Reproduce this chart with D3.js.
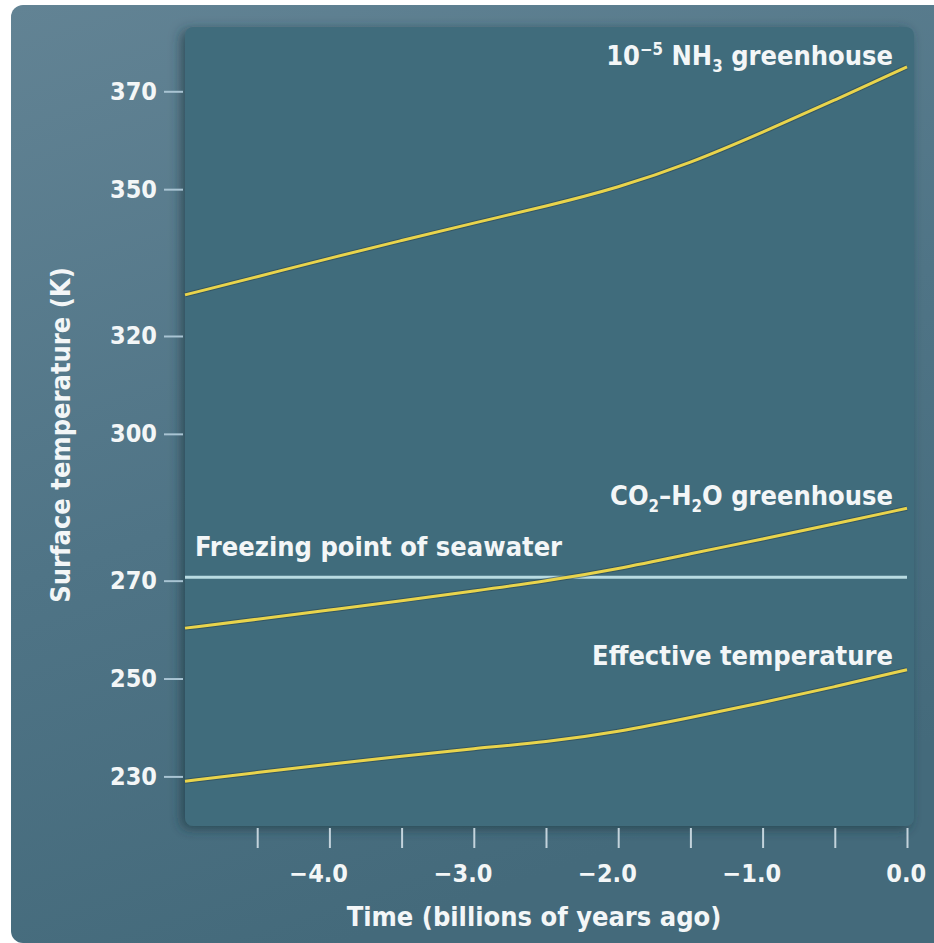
<!DOCTYPE html>
<html>
<head>
<meta charset="utf-8">
<script src="https://cdn.jsdelivr.net/npm/d3@7"></script>
<style>
  body { margin: 0; background: #ffffff; }
  svg text { font-family: "DejaVu Sans Condensed", "Liberation Sans Narrow", sans-serif; font-weight: bold; fill: #f3f6f7; }
</style>
</head>
<body>
<svg id="chart"></svg>
<script>
// time in billions of years ago (negative = past)
const times = [-5, -4.5, -4, -3.5, -3, -2.5, -2, -1.5, -1, -0.5, 0];
const nh3Temps = [328.4, 332.1, 335.9, 339.5, 343.1, 346.5, 350.3, 355.3, 361.6, 368.2, 375.0];
const co2Temps = [260.3, 262.1, 264.0, 265.9, 267.9, 269.9, 272.4, 275.5, 278.5, 281.6, 284.8];
const effTemps = [229.0, 230.8, 232.5, 234.1, 235.7, 237.0, 239.1, 242.0, 245.1, 248.3, 251.8];
const freezingTemp = 270.7;

const yTickValues = [230, 250, 270, 300, 320, 350, 370];
const xTickValues = [-4.5, -4, -3.5, -3, -2.5, -2, -1.5, -1, -0.5, 0];
const xLabelValues = [-4, -3, -2, -1, 0];

class TempChart {

  constructor(config) {
    this.config = {
      parent: config.parent,
      width: config.width || 934,
      height: config.height || 943,
      plot: config.plot || {left: 185, right: 907, top: 27, bottom: 826},
      fontSize: config.fontSize || 27,
      tickFontSize: config.tickFontSize || 25,
    }
    this.init()
  }

  init() {
    let self = this
    let c = self.config

    self.svg = d3.select(c.parent)
      .attr("width", c.width)
      .attr("height", c.height)

    let defs = self.svg.append("defs")
    let grad = defs.append("linearGradient")
      .attr("id", "bg")
      .attr("x1", "0").attr("y1", "0")
      .attr("x2", "0.35").attr("y2", "1")
    grad.append("stop").attr("offset", "0").attr("stop-color", "#628394")
    grad.append("stop").attr("offset", "0.55").attr("stop-color", "#4f7486")
    grad.append("stop").attr("offset", "1").attr("stop-color", "#446a7b")

    let shadow = defs.append("filter")
      .attr("id", "shadow")
      .attr("x", "-10%").attr("y", "-10%")
      .attr("width", "120%").attr("height", "120%")
    shadow.append("feDropShadow")
      .attr("dx", -4).attr("dy", 3)
      .attr("stdDeviation", 6)
      .attr("flood-color", "#1d3440")
      .attr("flood-opacity", 0.65)

    // outer panel
    self.svg.append("rect")
      .attr("x", 11).attr("y", 5)
      .attr("width", c.width + 20).attr("height", c.height - 5)
      .attr("rx", 12)
      .attr("fill", "url(#bg)")

    self.x_scale = d3.scaleLinear()
      .domain([-5, 0])
      .range([c.plot.left, c.plot.right])

    // fitted from the tick positions of the original
    self.y_scale = d3.scaleLinear()
      .domain([230, 370])
      .range([776.4, 91.3])

    // inner plot panel
    self.svg.append("rect")
      .attr("x", c.plot.left)
      .attr("y", c.plot.top)
      .attr("width", c.plot.right - c.plot.left + 7)
      .attr("height", c.plot.bottom - c.plot.top)
      .attr("rx", 8)
      .attr("fill", "#416c7c")
      .attr("filter", "url(#shadow)")

    self.line = d3.line()
      .x((d, i) => self.x_scale(times[i]))
      .y(d => self.y_scale(d))
      .curve(d3.curveBasis)
  }

  render() {
    let self = this
    let c = self.config

    // y axis
    let yAxis = d3.axisLeft(self.y_scale)
      .tickValues(yTickValues)
      .tickSize(19)
      .tickPadding(7)

    let yg = self.svg.append("g")
      .attr("transform", "translate(" + (c.plot.left - 2) + ",0)")
      .call(yAxis)
    yg.select(".domain").remove()
    yg.selectAll(".tick line").attr("stroke", "#a9c4d3").attr("stroke-width", 2)
    yg.selectAll(".tick text")
      .attr("fill", null)
      .style("font-size", c.tickFontSize + "px")

    // x axis
    let xAxis = d3.axisBottom(self.x_scale)
      .tickValues(xTickValues)
      .tickSize(20)
      .tickPadding(16)
      .tickFormat(d => xLabelValues.includes(d) ? d3.format(".1f")(d) : "")

    let xg = self.svg.append("g")
      .attr("transform", "translate(0," + (c.plot.bottom + 2) + ")")
      .call(xAxis)
    xg.select(".domain").remove()
    xg.selectAll(".tick line").attr("stroke", "#c3d3dc").attr("stroke-width", 2)
    xg.selectAll(".tick text")
      .attr("fill", null)
      .attr("dx", d => d < 0 ? "-0.45em" : "-0.05em")
      .style("font-size", c.tickFontSize + "px")

    // freezing point line
    self.svg.append("line")
      .attr("x1", c.plot.left)
      .attr("x2", c.plot.right)
      .attr("y1", self.y_scale(freezingTemp))
      .attr("y2", self.y_scale(freezingTemp))
      .attr("stroke", "#b9dbe2")
      .attr("stroke-width", 3)

    // curves: dark edge + yellow core
    let series = [nh3Temps, co2Temps, effTemps]
    self.svg.selectAll("path.edge")
      .data(series)
      .enter()
      .append("path")
      .attr("class", "edge")
      .attr("fill", "none")
      .attr("stroke", "#2b4650")
      .attr("stroke-opacity", 0.6)
      .attr("stroke-width", 5)
      .attr("d", self.line)

    self.svg.selectAll("path.curve")
      .data(series)
      .enter()
      .append("path")
      .attr("class", "curve")
      .attr("fill", "none")
      .attr("stroke", "#e9d44c")
      .attr("stroke-width", 3)
      .attr("d", self.line)

    let fs = c.fontSize
    let sub = fs * 0.62

    // series labels
    let nh3 = self.svg.append("text")
      .attr("x", 893).attr("y", 65)
      .attr("text-anchor", "end")
      .style("font-size", fs + "px")
    nh3.append("tspan").text("10")
    nh3.append("tspan").text("−5").attr("dy", -10).style("font-size", sub + "px")
    nh3.append("tspan").text(" NH").attr("dy", 10)
    nh3.append("tspan").text("3").attr("dy", 7).style("font-size", sub + "px")
    nh3.append("tspan").text(" greenhouse").attr("dy", -7)

    let co2 = self.svg.append("text")
      .attr("x", 893).attr("y", 505)
      .attr("text-anchor", "end")
      .style("font-size", fs + "px")
    co2.append("tspan").text("CO")
    co2.append("tspan").text("2").attr("dy", 7).style("font-size", sub + "px")
    co2.append("tspan").text("–H").attr("dy", -7)
    co2.append("tspan").text("2").attr("dy", 7).style("font-size", sub + "px")
    co2.append("tspan").text("O greenhouse").attr("dy", -7)

    self.svg.append("text")
      .attr("x", 195).attr("y", 556)
      .style("font-size", fs + "px")
      .text("Freezing point of seawater")

    self.svg.append("text")
      .attr("x", 893).attr("y", 665)
      .attr("text-anchor", "end")
      .style("font-size", fs + "px")
      .text("Effective temperature")

    // axis titles
    self.svg.append("text")
      .attr("x", (c.plot.left + c.plot.right) / 2 - 12)
      .attr("y", 926)
      .attr("text-anchor", "middle")
      .style("font-size", fs + "px")
      .text("Time (billions of years ago)")

    self.svg.append("text")
      .attr("transform", "rotate(-90)")
      .attr("x", -435)
      .attr("y", 70)
      .attr("text-anchor", "middle")
      .style("font-size", fs + "px")
      .text("Surface temperature (K)")
  }
}

let chart = new TempChart({parent: "#chart"})
chart.render()
</script>
</body>
</html>
